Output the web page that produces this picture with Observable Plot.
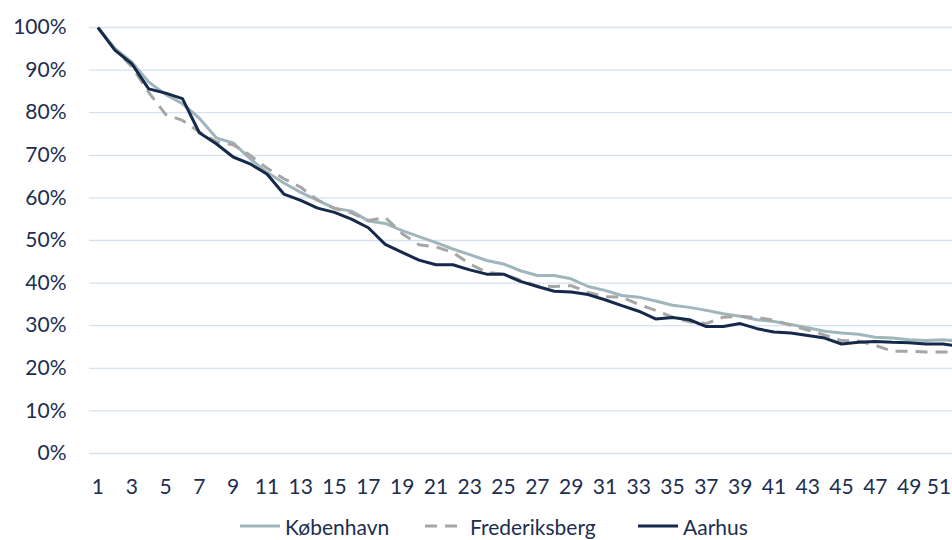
<!DOCTYPE html>
<html>
<head>
<meta charset="utf-8">
<script src="https://cdn.jsdelivr.net/npm/d3@7"></script>
<script src="https://cdn.jsdelivr.net/npm/@observablehq/plot@0.6"></script>
<style>
  html, body { margin: 0; padding: 0; background: #ffffff; }
  body { width: 952px; height: 540px; overflow: hidden; font-family: Lato, "Open Sans", sans-serif; color: #1d2e4f; }
  #chart svg { display: block; }
  #legend { position: relative; height: 28px; font-size: 21px; }
  .item { position: absolute; top: 0; display: flex; align-items: center; height: 28px; white-space: nowrap; }
  .item svg { display: block; margin-right: 5px; }
</style>
</head>
<body>
<div id="chart"></div>
<div id="legend"></div>
<script>
const weeks = [1,2,3,4,5,6,7,8,9,10,11,12,13,14,15,16,17,18,19,20,21,22,23,24,25,26,27,28,29,30,31,32,33,34,35,36,37,38,39,40,41,42,43,44,45,46,47,48,49,50,51,52];
const kobenhavn = [100,95.1,91.9,87.2,84.3,82.1,78.7,74.1,72.9,69.2,66.0,63.5,61.3,59.4,57.6,56.9,54.6,54.0,52.3,50.9,49.5,48.0,46.7,45.3,44.5,42.9,41.8,41.8,41.0,39.2,38.3,37.1,36.7,35.8,34.8,34.3,33.6,32.8,32.2,31.4,31.0,30.3,29.5,28.7,28.3,28.0,27.3,27.1,26.7,26.5,26.7,26.4];
const frederiksberg = [100,95.0,90.8,84.8,79.6,78.2,75.5,73.2,72.5,70.0,67.0,64.5,62.5,59.5,57.5,56.5,54.7,55.4,51.6,49.0,48.5,47.2,44.5,42.5,42.1,40.7,39.3,39.2,39.4,37.8,36.8,36.7,35.0,33.6,32.0,30.9,30.5,32.0,32.2,31.9,31.3,30.1,29.0,27.8,26.5,26.4,25.4,24.0,24.0,23.8,23.8,23.8];
const aarhus = [100,94.7,91.5,85.6,84.6,83.3,75.3,72.7,69.6,68.0,65.6,60.9,59.4,57.6,56.6,55.0,53.0,49.1,47.2,45.4,44.3,44.3,43.1,42.1,42.1,40.4,39.2,38.1,37.9,37.3,36.1,34.7,33.4,31.6,31.9,31.4,29.8,29.8,30.5,29.3,28.5,28.3,27.7,27.1,25.7,26.1,26.3,26.1,26.0,25.7,25.7,25.2];
const seriesNames = ["København", "Frederiksberg", "Aarhus"];
const seriesColors = ["#a0b6bd", "#a6a6a6", "#15294b"];
const seriesDash = [null, "12,8", null];
const xTicks = [1,3,5,7,9,11,13,15,17,19,21,23,25,27,29,31,33,35,37,39,41,43,45,47,49,51];
const yTicks = [0,10,20,30,40,50,60,70,80,90,100];

const seriesValues = [kobenhavn, frederiksberg, aarhus];
const rows = seriesValues.map((vals, i) => weeks.map((w, j) => ({week: w, value: vals[j], name: seriesNames[i]})));

const plotWidth = 952, marginLeft = 89, catWidth = 16.9;
const xMax = 0.5 + (plotWidth - marginLeft) / catWidth;
const lastTick = xTicks[xTicks.length - 1];

const axisOpts = {tickSize: 0, tickPadding: 26, tickFormat: d => String(d), label: null};

const chart = Plot.plot({
  width: plotWidth,
  height: 512,
  marginLeft: marginLeft,
  marginRight: 0,
  marginTop: 27,
  marginBottom: 59,
  style: {fontFamily: "Lato, 'Open Sans', sans-serif", fontSize: "21px", color: "#1d2e4f", background: "#ffffff", overflow: "hidden"},
  x: {domain: [0.5, xMax], label: null},
  y: {domain: [0, 100], ticks: yTicks, tickFormat: d => d + "%", tickSize: 0, tickPadding: 23, label: null},
  marks: [
    Plot.gridY(yTicks, {stroke: "#d7e2f1", strokeOpacity: 1, strokeWidth: 1.3}),
    Plot.axisX(xTicks.filter(t => t !== lastTick), axisOpts),
    Plot.axisX([lastTick], {...axisOpts, dx: -4}),
    ...rows.map((data, i) => Plot.line(data, {
      x: "week", y: "value",
      stroke: seriesColors[i],
      strokeWidth: 3,
      strokeDasharray: seriesDash[i],
      strokeLinejoin: "round",
      strokeLinecap: "butt",
      clip: true
    }))
  ]
});
document.getElementById("chart").appendChild(chart);

// legend
const legend = document.getElementById("legend");
const lefts = [240, 425, 638];
seriesNames.forEach((name, i) => {
  const item = document.createElement("div");
  item.className = "item";
  item.style.left = lefts[i] + "px";
  const dash = seriesDash[i] ? `stroke-dasharray="12,8"` : "";
  item.innerHTML = `<svg width="40" height="6"><line x1="0" y1="3" x2="40" y2="3" stroke="${seriesColors[i]}" stroke-width="3" ${dash}/></svg><span>${name}</span>`;
  legend.appendChild(item);
});
</script>
</body>
</html>
